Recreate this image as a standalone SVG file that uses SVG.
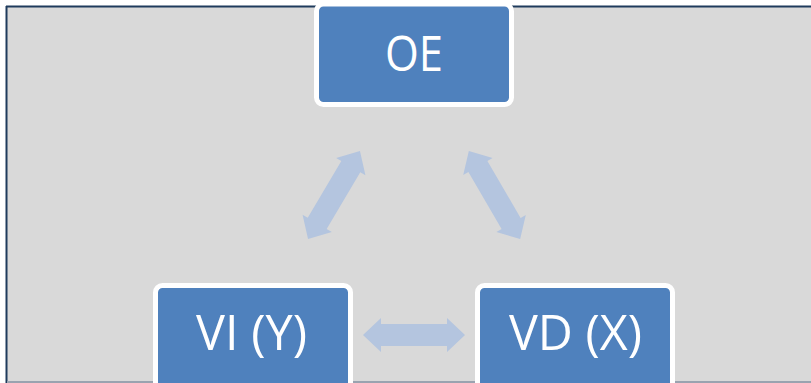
<svg xmlns="http://www.w3.org/2000/svg" width="811" height="383" viewBox="0 0 811 383">
<style>
.box{fill:#4f81bd;stroke:#ffffff;stroke-width:5}
.lbl{font-family:"Open Sans","Liberation Sans",sans-serif;font-size:50px;fill:#ffffff;text-anchor:middle}
.arr{fill:#b4c5df}
</style>
<defs>
<path id="dbl" d="M-51,0 L-33,-17 L-33,-11 L33,-11 L33,-17 L51,0 L33,17 L33,11 L-33,11 L-33,17 Z"/>
</defs>
<rect x="0" y="0" width="811" height="383" fill="#ffffff"/>
<rect x="7" y="7" width="806" height="374" fill="#d9d9d9"/>
<line x1="6" y1="6.5" x2="811" y2="6.5" stroke="#1f3b5c" stroke-width="2"/>
<line x1="6.5" y1="6" x2="6.5" y2="383" stroke="#1f3b5c" stroke-width="2"/>
<line x1="7" y1="382" x2="811" y2="382" stroke="#9aa3b0" stroke-width="2"/>
<g id="connectors" class="arr">
<use href="#dbl" transform="translate(334,195) rotate(-59.4)"/>
<use href="#dbl" transform="translate(494.5,195) rotate(59.8)"/>
<use href="#dbl" transform="translate(414,335)"/>
</g>
<g id="node-oe">
<rect class="box" x="316.5" y="4" width="195" height="100.5" rx="7"/>
<text class="lbl" x="414" y="71" textLength="58" lengthAdjust="spacingAndGlyphs">OE</text>
</g>
<g id="node-vi">
<rect class="box" x="155.5" y="285.5" width="195" height="110" rx="7"/>
<text class="lbl" x="251.5" y="350" textLength="111" lengthAdjust="spacingAndGlyphs">VI (Y)</text>
</g>
<g id="node-vd">
<rect class="box" x="477.5" y="285.5" width="195" height="110" rx="7"/>
<text class="lbl" x="575.5" y="350" textLength="133" lengthAdjust="spacingAndGlyphs">VD (X)</text>
</g>
</svg>
